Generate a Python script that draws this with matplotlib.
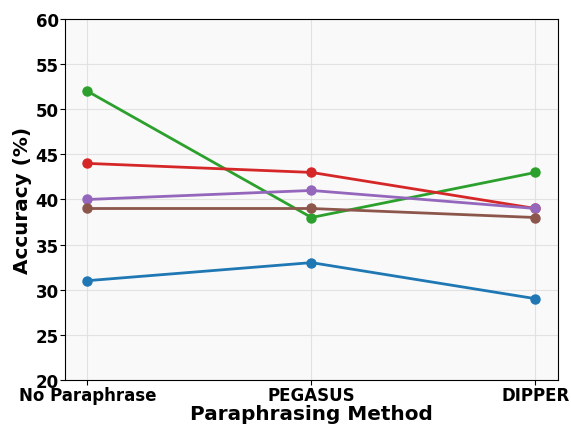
import matplotlib
matplotlib.use("Agg")
import matplotlib.pyplot as plt

methods = ["No Paraphrase", "PEGASUS", "DIPPER"]
blue = [31, 33, 29]
green = [52, 38, 43]
red = [44, 43, 39]
purple = [40, 41, 39]
brown = [39, 39, 38]

series = [(blue, "#1f77b4"), (green, "#2ca02c"), (red, "#d62728"),
          (purple, "#9467bd"), (brown, "#8c564b")]

fig = plt.figure(figsize=(5.71, 4.27), dpi=100)
ax = fig.add_axes([0.114, 0.108, 0.863, 0.845])
ax.set_facecolor("#f9f9f9")
x = list(range(len(methods)))
for vals, c in series:
    ax.plot(x, vals, color=c, linewidth=2, marker="o", markersize=6.5)
ax.set_ylim(20, 60)
ax.set_yticks(range(20, 61, 5))
ax.set_xticks(x)
ax.set_xticklabels(methods)
ax.grid(True, color="#dddddd", linewidth=0.8, alpha=0.8)
ax.set_axisbelow(True)
for lab in ax.get_xticklabels() + ax.get_yticklabels():
    lab.set_fontweight("bold")
    lab.set_fontsize(12)
ax.tick_params(axis="both", pad=1)
ax.set_xlabel("Paraphrasing Method", fontsize=14.4, fontweight="bold", labelpad=0)
ax.set_ylabel("Accuracy (%)", fontsize=14.4, fontweight="bold", labelpad=3)
fig.savefig("out.png", dpi=100)
